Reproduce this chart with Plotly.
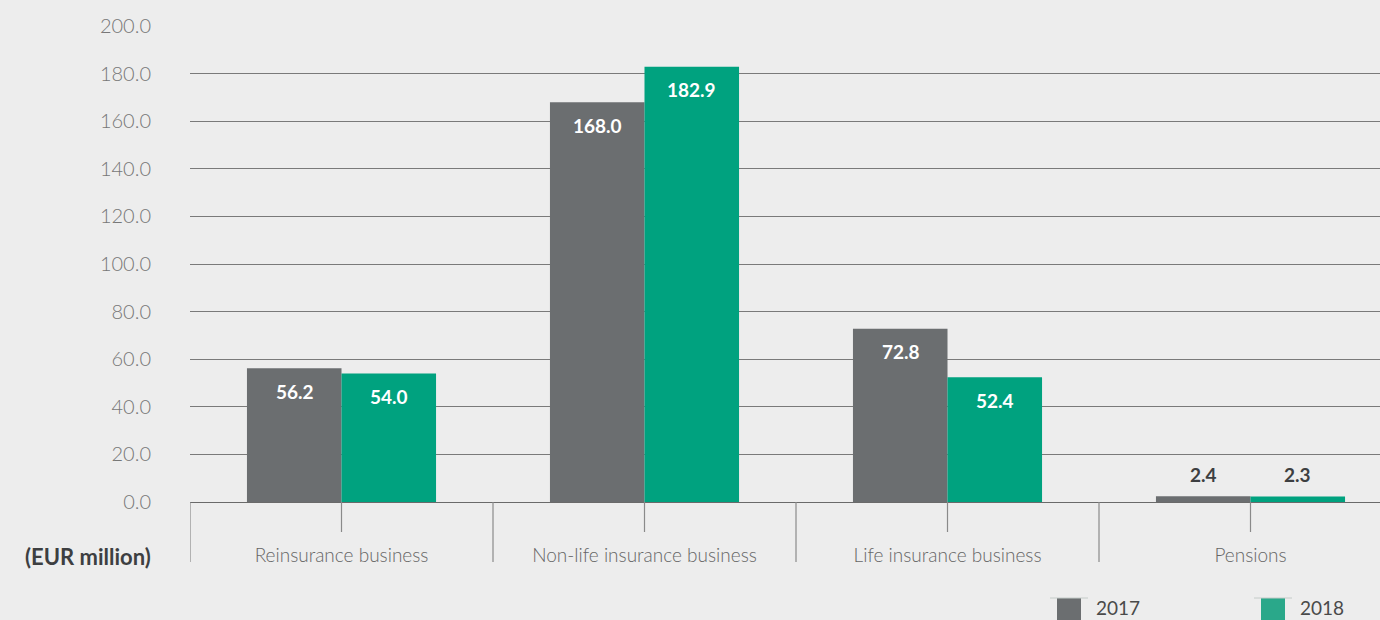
import plotly.graph_objects as go

# Data
categories = ["Reinsurance business", "Non-life insurance business", "Life insurance business", "Pensions"]
years = ["2017", "2018"]
values_2017 = [56.2, 168.0, 72.8, 2.4]
values_2018 = [54.0, 182.9, 52.4, 2.3]
y_ticks = [0, 20, 40, 60, 80, 100, 120, 140, 160, 180, 200]

GREY = "#6b6e70"
GREEN = "#00a27f"
BG = "#ededed"
FONT = "Lato"

# Plot area in pixels (1380x620 page)
L, R, T, B = 190, 1380, 26, 502


def px(x):
    return (x - L) / (R - L)


def py(y):
    return (B - y) / (B - T)


fig = go.Figure()
for name, vals, col in [(years[0], values_2017, GREY), (years[1], values_2018, GREEN)]:
    fig.add_trace(go.Bar(x=categories, y=vals, name=name, marker_color=col,
                         marker_line_width=0, showlegend=False))

annotations = []
shapes = []

# Value labels
for vals, shift in [(values_2017, -47), (values_2018, 47)]:
    for cat, v in zip(categories, vals):
        inside = v > 20
        annotations.append(dict(
            x=cat, y=v, xref="x", yref="y", text=f"<b>{v:.1f}</b>", showarrow=False,
            xshift=shift, yshift=-23 if inside else 22, yanchor="middle",
            font=dict(family=FONT, size=19, color="white" if inside else "#3d3f41"),
        ))

# Category dividers and centre ticks below the axis
for i in range(len(categories) + 1):
    shapes.append(dict(type="line", xref="x", yref="paper", x0=i - 0.5, x1=i - 0.5,
                       y0=0, y1=py(562), line=dict(color="#8a8a8a", width=1.2)))
for i in range(len(categories)):
    shapes.append(dict(type="line", xref="x", yref="paper", x0=i, x1=i,
                       y0=0, y1=py(532), line=dict(color="#8a8a8a", width=1.2)))

# Unit label
annotations.append(dict(x=0, y=py(556), xref="paper", yref="paper", xanchor="right",
                        yanchor="middle", xshift=-37, text="<b>(EUR million)</b>",
                        showarrow=False,
                        font=dict(family=FONT, size=22, color="#3d3f41", weight=900)))

# Legend drawn at the bottom
for (name, col, x0) in [(years[0], GREY, 1057), (years[1], "#2aa88a", 1261)]:
    shapes.append(dict(type="rect", xref="paper", yref="paper", x0=px(x0), x1=px(x0 + 24),
                       y0=py(630), y1=py(598), fillcolor=col, line_width=0))
    shapes.append(dict(type="line", xref="paper", yref="paper", x0=px(x0 - 7), x1=px(x0 + 31),
                       y0=py(598), y1=py(598), line=dict(color="#c4cbc8", width=1)))
    annotations.append(dict(x=px(x0 + 37), y=py(607), xref="paper", yref="paper",
                            xanchor="left", yanchor="middle", text=name, showarrow=False,
                            font=dict(family=FONT, size=19, color="#4a4a4a")))

fig.update_layout(
    width=1380, height=620,
    margin=dict(l=L, r=1380 - R, t=T, b=620 - B),
    paper_bgcolor=BG, plot_bgcolor=BG,
    barmode="group", bargap=0.376, bargroupgap=0,
    font=dict(family=FONT),
    annotations=annotations, shapes=shapes,
)
fig.update_xaxes(range=[-0.5, 3.5 - 22 / 303], showgrid=False, ticks="",
                 tickfont=dict(family=FONT, size=19, color="#666666", weight=300),
                 ticklabelstandoff=40, showline=False, zeroline=False)
fig.update_yaxes(range=[0, 200], tickvals=y_ticks, tickformat=".1f",
                 gridcolor="#7a7a7a", gridwidth=1, zeroline=True, zerolinecolor="#6a6a6a",
                 zerolinewidth=1.2, showline=False, ticks="",
                 tickfont=dict(family=FONT, size=20, color="#777777", weight=300),
                 ticklabelstandoff=38)

fig.write_html("out.html", config={"displayModeBar": False},
               post_script="document.body.style.margin='0';"
               "document.body.style.background='%s';" % BG)
